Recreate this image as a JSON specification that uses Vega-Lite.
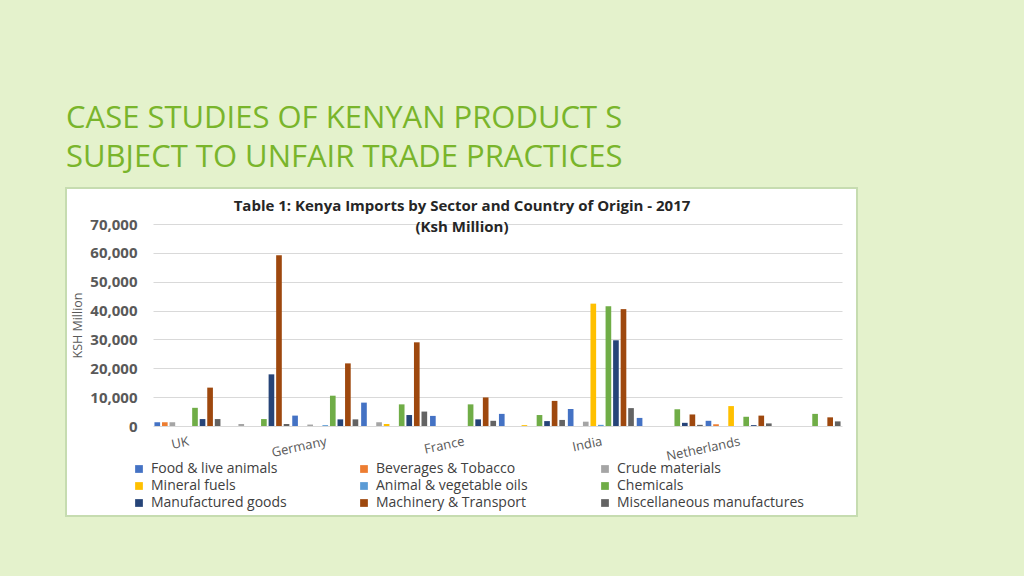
{
  "$schema": "https://vega.github.io/schema/vega-lite/v6.json",
  "width": 791,
  "height": 328,
  "autosize": {"type": "none"},
  "padding": {"left": 66, "top": 188, "right": 167, "bottom": 60},
  "background": "#E4F2CC",
  "title": {
    "text": ["CASE STUDIES OF KENYAN PRODUCT S", "SUBJECT TO UNFAIR TRADE PRACTICES"],
    "anchor": "start",
    "frame": "group",
    "offset": 14,
    "font": "Open Sans",
    "fontSize": 31,
    "fontWeight": 500,
    "color": "#79B52B",
    "lineHeight": 39
  },
  "datasets": {
    "imports": [
      {"country": "UK", "sector": "Food & live animals", "value": 1300},
      {"country": "UK", "sector": "Beverages & Tobacco", "value": 1300},
      {"country": "UK", "sector": "Crude materials", "value": 1300},
      {"country": "UK", "sector": "Mineral fuels", "value": 0},
      {"country": "UK", "sector": "Animal & vegetable oils", "value": 0},
      {"country": "UK", "sector": "Chemicals", "value": 6300},
      {"country": "UK", "sector": "Manufactured goods", "value": 2400},
      {"country": "UK", "sector": "Machinery & Transport", "value": 13300},
      {"country": "UK", "sector": "Miscellaneous manufactures", "value": 2400},
      {"country": "Country 2", "sector": "Food & live animals", "value": 0},
      {"country": "Country 2", "sector": "Beverages & Tobacco", "value": 0},
      {"country": "Country 2", "sector": "Crude materials", "value": 700},
      {"country": "Country 2", "sector": "Mineral fuels", "value": 0},
      {"country": "Country 2", "sector": "Animal & vegetable oils", "value": 0},
      {"country": "Country 2", "sector": "Chemicals", "value": 2400},
      {"country": "Country 2", "sector": "Manufactured goods", "value": 17900},
      {"country": "Country 2", "sector": "Machinery & Transport", "value": 59200},
      {"country": "Country 2", "sector": "Miscellaneous manufactures", "value": 700},
      {"country": "Germany", "sector": "Food & live animals", "value": 3600},
      {"country": "Germany", "sector": "Beverages & Tobacco", "value": 0},
      {"country": "Germany", "sector": "Crude materials", "value": 500},
      {"country": "Germany", "sector": "Mineral fuels", "value": 0},
      {"country": "Germany", "sector": "Animal & vegetable oils", "value": 300},
      {"country": "Germany", "sector": "Chemicals", "value": 10500},
      {"country": "Germany", "sector": "Manufactured goods", "value": 2300},
      {"country": "Germany", "sector": "Machinery & Transport", "value": 21700},
      {"country": "Germany", "sector": "Miscellaneous manufactures", "value": 2300},
      {"country": "Country 4", "sector": "Food & live animals", "value": 8100},
      {"country": "Country 4", "sector": "Beverages & Tobacco", "value": 0},
      {"country": "Country 4", "sector": "Crude materials", "value": 1300},
      {"country": "Country 4", "sector": "Mineral fuels", "value": 700},
      {"country": "Country 4", "sector": "Animal & vegetable oils", "value": 0},
      {"country": "Country 4", "sector": "Chemicals", "value": 7500},
      {"country": "Country 4", "sector": "Manufactured goods", "value": 3800},
      {"country": "Country 4", "sector": "Machinery & Transport", "value": 29000},
      {"country": "Country 4", "sector": "Miscellaneous manufactures", "value": 5000},
      {"country": "France", "sector": "Food & live animals", "value": 3500},
      {"country": "France", "sector": "Beverages & Tobacco", "value": 0},
      {"country": "France", "sector": "Crude materials", "value": 0},
      {"country": "France", "sector": "Mineral fuels", "value": 0},
      {"country": "France", "sector": "Animal & vegetable oils", "value": 0},
      {"country": "France", "sector": "Chemicals", "value": 7500},
      {"country": "France", "sector": "Manufactured goods", "value": 2300},
      {"country": "France", "sector": "Machinery & Transport", "value": 9900},
      {"country": "France", "sector": "Miscellaneous manufactures", "value": 1800},
      {"country": "Country 6", "sector": "Food & live animals", "value": 4200},
      {"country": "Country 6", "sector": "Beverages & Tobacco", "value": 0},
      {"country": "Country 6", "sector": "Crude materials", "value": 0},
      {"country": "Country 6", "sector": "Mineral fuels", "value": 300},
      {"country": "Country 6", "sector": "Animal & vegetable oils", "value": 0},
      {"country": "Country 6", "sector": "Chemicals", "value": 3800},
      {"country": "Country 6", "sector": "Manufactured goods", "value": 1700},
      {"country": "Country 6", "sector": "Machinery & Transport", "value": 8700},
      {"country": "Country 6", "sector": "Miscellaneous manufactures", "value": 2100},
      {"country": "India", "sector": "Food & live animals", "value": 5900},
      {"country": "India", "sector": "Beverages & Tobacco", "value": 0},
      {"country": "India", "sector": "Crude materials", "value": 1500},
      {"country": "India", "sector": "Mineral fuels", "value": 42400},
      {"country": "India", "sector": "Animal & vegetable oils", "value": 400},
      {"country": "India", "sector": "Chemicals", "value": 41500},
      {"country": "India", "sector": "Manufactured goods", "value": 29700},
      {"country": "India", "sector": "Machinery & Transport", "value": 40500},
      {"country": "India", "sector": "Miscellaneous manufactures", "value": 6200},
      {"country": "Country 8", "sector": "Food & live animals", "value": 2800},
      {"country": "Country 8", "sector": "Beverages & Tobacco", "value": 0},
      {"country": "Country 8", "sector": "Crude materials", "value": 0},
      {"country": "Country 8", "sector": "Mineral fuels", "value": 0},
      {"country": "Country 8", "sector": "Animal & vegetable oils", "value": 0},
      {"country": "Country 8", "sector": "Chemicals", "value": 5800},
      {"country": "Country 8", "sector": "Manufactured goods", "value": 1100},
      {"country": "Country 8", "sector": "Machinery & Transport", "value": 4000},
      {"country": "Country 8", "sector": "Miscellaneous manufactures", "value": 400},
      {"country": "Netherlands", "sector": "Food & live animals", "value": 1800},
      {"country": "Netherlands", "sector": "Beverages & Tobacco", "value": 600},
      {"country": "Netherlands", "sector": "Crude materials", "value": 0},
      {"country": "Netherlands", "sector": "Mineral fuels", "value": 6900},
      {"country": "Netherlands", "sector": "Animal & vegetable oils", "value": 0},
      {"country": "Netherlands", "sector": "Chemicals", "value": 3200},
      {"country": "Netherlands", "sector": "Manufactured goods", "value": 300},
      {"country": "Netherlands", "sector": "Machinery & Transport", "value": 3600},
      {"country": "Netherlands", "sector": "Miscellaneous manufactures", "value": 900},
      {"country": "Country 10", "sector": "Food & live animals", "value": 0},
      {"country": "Country 10", "sector": "Beverages & Tobacco", "value": 0},
      {"country": "Country 10", "sector": "Crude materials", "value": 0},
      {"country": "Country 10", "sector": "Mineral fuels", "value": 0},
      {"country": "Country 10", "sector": "Animal & vegetable oils", "value": 0},
      {"country": "Country 10", "sector": "Chemicals", "value": 4200},
      {"country": "Country 10", "sector": "Manufactured goods", "value": 0},
      {"country": "Country 10", "sector": "Machinery & Transport", "value": 3000},
      {"country": "Country 10", "sector": "Miscellaneous manufactures", "value": 1600}
    ]
  },
  "data": {"name": "imports"},
  "mark": {"type": "bar"},
  "encoding": {
    "x": {
      "field": "country",
      "type": "nominal",
      "sort": ["UK", "Country 2", "Germany", "Country 4", "France", "Country 6", "India", "Country 8", "Netherlands", "Country 10"],
      "scale": {"range": [87, 776], "paddingInner": 0.02, "paddingOuter": 0.01},
      "axis": {
        "offset": -90,
        "domain": false,
        "ticks": false,
        "grid": false,
        "labelAngle": -12,
        "labelAlign": "right",
        "labelBaseline": "top",
        "labelPadding": 9,
        "labelOverlap": false,
        "labelFont": "Open Sans",
        "labelFontSize": 13,
        "labelColor": "#595959",
        "labelExpr": "indexof(['UK','Germany','France','India','Netherlands'], datum.value) >= 0 ? datum.value : ''",
        "title": ["Table 1: Kenya Imports by Sector and Country of Origin - 2017", "(Ksh Million)"],
        "titleX": 395.5,
        "titleY": -216,
        "titleAlign": "center",
        "titleBaseline": "alphabetic",
        "titleAngle": 0,
        "titleFont": "Open Sans",
        "titleFontSize": 15,
        "titleFontWeight": "bold",
        "titleColor": "#262626",
        "titleLineHeight": 21
      }
    },
    "xOffset": {
      "field": "sector",
      "type": "nominal",
      "sort": ["Food & live animals", "Beverages & Tobacco", "Crude materials", "Mineral fuels", "Animal & vegetable oils", "Chemicals", "Manufactured goods", "Machinery & Transport", "Miscellaneous manufactures"],
      "scale": {"paddingInner": 0.25, "paddingOuter": 0.1}
    },
    "y": {
      "field": "value",
      "type": "quantitative",
      "scale": {"domain": [0, 70000], "range": [238, 36], "nice": false},
      "axis": {
        "offset": -79,
        "domain": false,
        "ticks": false,
        "grid": true,
        "gridColor": "#D9D9D9",
        "values": [0, 10000, 20000, 30000, 40000, 50000, 60000, 70000],
        "labelExpr": "format(datum.value, ',')",
        "labelFont": "Open Sans",
        "labelFontSize": 15,
        "labelFontWeight": "bold",
        "labelColor": "#595959",
        "labelPadding": 8,
        "title": "KSH Million",
        "titleX": -68,
        "titleY": 137,
        "titleAlign": "center",
        "titleBaseline": "middle",
        "titleFont": "Open Sans",
        "titleFontSize": 12.5,
        "titleFontWeight": "normal",
        "titleColor": "#595959"
      }
    },
    "color": {
      "field": "sector",
      "type": "nominal",
      "scale": {
        "domain": ["Food & live animals", "Beverages & Tobacco", "Crude materials", "Mineral fuels", "Animal & vegetable oils", "Chemicals", "Manufactured goods", "Machinery & Transport", "Miscellaneous manufactures"],
        "range": ["#4472C4", "#ED7D31", "#A5A5A5", "#FFC000", "#5B9BD5", "#70AD47", "#264478", "#9E480E", "#636363"]
      },
      "legend": {
        "orient": "none",
        "direction": "horizontal",
        "legendX": 66,
        "legendY": 274,
        "columns": 3,
        "columnPadding": 70,
        "rowPadding": 3,
        "padding": 0,
        "symbolType": "square",
        "symbolSize": 60,
        "symbolStrokeWidth": 0,
        "labelOffset": 5,
        "labelLimit": 300,
        "labelFont": "Open Sans",
        "labelFontSize": 14,
        "labelColor": "#404040",
        "title": null
      }
    }
  },
  "config": {
    "view": {"fill": "#FFFFFF", "stroke": "#C6DCB0", "strokeWidth": 2}
  }
}
